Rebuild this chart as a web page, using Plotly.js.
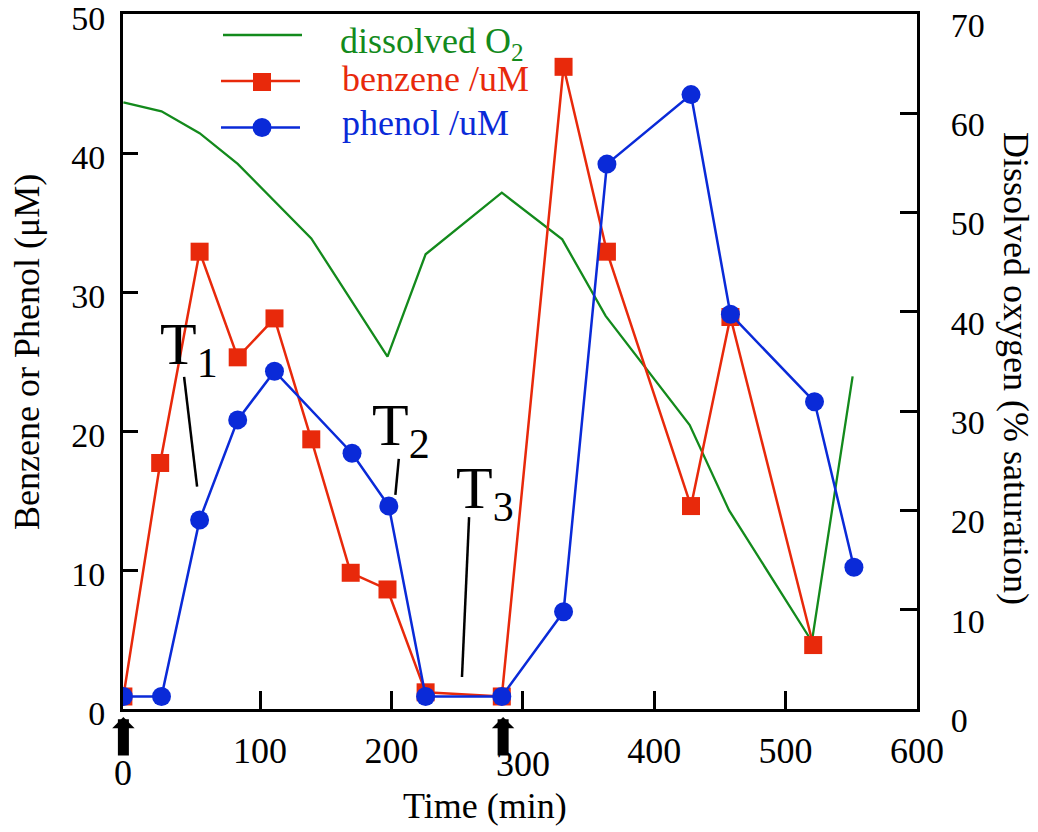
<!DOCTYPE html>
<html><head><meta charset="utf-8">
<script src="https://cdn.plot.ly/plotly-3.0.1.min.js"></script>
<style>html,body{margin:0;padding:0;background:#fff}</style>
</head><body><div id="chart" style="width:1038px;height:832px"></div>
<script>
// ---- data ----
const timeBenzene = [-4, 24, 54, 83, 111, 139, 169, 197, 226, 284, 331, 364, 428, 458, 521];
const benzene     = [0.9, 17.7, 32.9, 25.3, 28.1, 19.4, 9.8, 8.6, 1.2, 0.9, 46.2, 32.9, 14.6, 28.2, 4.6];
const timePhenol  = [-4, 25, 54, 83, 111, 170, 198, 226, 284, 331, 364, 428, 458, 522, 552];
const phenol      = [0.9, 0.9, 13.6, 20.8, 24.3, 18.4, 14.6, 0.9, 0.9, 7.0, 39.2, 44.2, 28.4, 22.1, 10.2];
const timeO2      = [-4, 25, 54, 83, 139, 197, 226, 284, 330, 363, 427, 457, 520, 551];
const dissolvedO2 = [61.1, 60.2, 58.0, 54.9, 47.4, 35.5, 45.8, 52.0, 47.3, 39.6, 28.6, 20.0, 6.8, 33.5];
const xTickVals   = [100, 200, 300, 400, 500, 600];
const xTickText   = ['100', '200', '', '400', '500', '600'];
const leftTicks   = [0, 10, 20, 30, 40, 50];
const rightTicks  = [0, 10, 20, 30, 40, 50, 60, 70];
const additionTimes = [-4, 285];   // black arrows
const seriesNames = ['dissolved O<sub>2</sub>', 'benzene /uM', 'phenol /uM'];

// ---- styling ----
const FONT = 'Liberation Serif, Times New Roman, serif';
const GREEN = '#138a1c', RED = '#e8290b', BLUE = '#0a2ad8';
const W = 1038, H = 832, ML = 123, MR = 121, MT = 14, MB = 123;
const pw = W - ML - MR, ph = H - MT - MB;
const px = x => (x - ML) / pw;
const py = y => (H - MB - y) / ph;

const traces = [
  {x: timeO2, y: dissolvedO2, yaxis: 'y', mode: 'lines', name: seriesNames[0],
   line: {color: GREEN, width: 2.3}},
  {x: timeBenzene, y: benzene, yaxis: 'y2', mode: 'lines+markers', name: seriesNames[1],
   line: {color: RED, width: 2.5}, marker: {symbol: 'square', size: 18, color: RED}},
  {x: timePhenol, y: phenol, yaxis: 'y2', mode: 'lines+markers', name: seriesNames[2],
   line: {color: BLUE, width: 2.5}, marker: {symbol: 'circle', size: 19, color: BLUE}}
];

const axisCommon = {showgrid: false, zeroline: false, showline: true, linecolor: '#000',
  linewidth: 3, ticks: 'inside', tickcolor: '#000', tickwidth: 3, ticklabeloverflow: 'allow'};

const annotations = [
  // axis titles
  {xref: 'paper', yref: 'paper', x: px(485), y: py(806), text: 'Time (min)', showarrow: false,
   font: {family: FONT, size: 36, color: '#000'}, xanchor: 'center', yanchor: 'middle'},
  {xref: 'paper', yref: 'paper', x: px(27), y: py(352), text: 'Benzene or Phenol (μM)', showarrow: false,
   textangle: -90, font: {family: FONT, size: 36, color: '#000'}, xanchor: 'center', yanchor: 'middle'},
  {xref: 'paper', yref: 'paper', x: px(1016), y: py(368), text: 'Dissolved oxygen (% saturation)', showarrow: false,
   textangle: 90, font: {family: FONT, size: 36, color: '#000'}, xanchor: 'center', yanchor: 'middle'},
  // displaced x tick labels
  {xref: 'x', yref: 'paper', x: 0, y: py(773), text: '0', showarrow: false,
   font: {family: FONT, size: 36, color: '#000'}, xanchor: 'center', yanchor: 'middle', xshift: -6},
  {xref: 'x', yref: 'paper', x: 300, y: py(764), text: '300', showarrow: false,
   font: {family: FONT, size: 36, color: '#000'}, xanchor: 'center', yanchor: 'middle'},
  // T labels
  {xref: 'x', yref: 'y2', x: 46, y: 25.9, text: 'T<sub>1</sub>', showarrow: false,
   font: {family: FONT, size: 60, color: '#000'}, xanchor: 'center', yanchor: 'middle'},
  {xref: 'x', yref: 'y2', x: 207, y: 20.1, text: 'T<sub>2</sub>', showarrow: false,
   font: {family: FONT, size: 60, color: '#000'}, xanchor: 'center', yanchor: 'middle'},
  {xref: 'x', yref: 'y2', x: 271, y: 15.6, text: 'T<sub>3</sub>', showarrow: false,
   font: {family: FONT, size: 60, color: '#000'}, xanchor: 'center', yanchor: 'middle'},
  // legend texts
  {xref: 'paper', yref: 'paper', x: px(338), y: py(44), text: seriesNames[0], showarrow: false,
   font: {family: FONT, size: 36, color: GREEN}, xanchor: 'left', yanchor: 'middle'},
  {xref: 'paper', yref: 'paper', x: px(340), y: py(79), text: seriesNames[1], showarrow: false,
   font: {family: FONT, size: 36, color: RED}, xanchor: 'left', yanchor: 'middle'},
  {xref: 'paper', yref: 'paper', x: px(340), y: py(123), text: seriesNames[2], showarrow: false,
   font: {family: FONT, size: 36, color: BLUE}, xanchor: 'left', yanchor: 'middle'}
];
additionTimes.forEach(t => annotations.push({
  xref: 'x', yref: 'paper', x: t, y: py(717), ax: 0, ay: 40, text: '', showarrow: true,
  arrowhead: 1, arrowsize: 0.34, arrowwidth: 11, arrowcolor: '#000', standoff: 0
}));

const shapes = [
  // pointer lines for T labels
  {type: 'line', xref: 'x', yref: 'y2', x0: 42.2, y0: 23.9, x1: 52.1, y1: 16.0, line: {color: '#000', width: 2.5}},
  {type: 'line', xref: 'x', yref: 'y2', x0: 205.6, y0: 18.0, x1: 203.0, y1: 15.4, line: {color: '#000', width: 2.5}},
  {type: 'line', xref: 'x', yref: 'y2', x0: 259.1, y0: 13.8, x1: 253.7, y1: 2.3, line: {color: '#000', width: 2.5}},
  // legend samples
  {type: 'line', xref: 'paper', yref: 'paper', x0: px(223), x1: px(302), y0: py(35), y1: py(35), line: {color: GREEN, width: 2.5}},
  {type: 'line', xref: 'paper', yref: 'paper', x0: px(221), x1: px(300), y0: py(81), y1: py(81), line: {color: RED, width: 2.5}},
  {type: 'line', xref: 'paper', yref: 'paper', x0: px(221), x1: px(300), y0: py(127.5), y1: py(127.5), line: {color: BLUE, width: 2.5}},
  {type: 'rect', xref: 'paper', yref: 'paper', xsizemode: 'pixel', ysizemode: 'pixel',
   xanchor: px(262), yanchor: py(82), x0: -9, x1: 9, y0: -9, y1: 9, fillcolor: RED, line: {width: 0}},
  {type: 'circle', xref: 'paper', yref: 'paper', xsizemode: 'pixel', ysizemode: 'pixel',
   xanchor: px(262), yanchor: py(127.5), x0: -9.5, x1: 9.5, y0: -9.5, y1: 9.5, fillcolor: BLUE, line: {width: 0}}
];

const layout = {
  width: W, height: H, margin: {l: ML, r: MR, t: MT, b: MB, pad: 0},
  paper_bgcolor: '#fff', plot_bgcolor: '#fff', showlegend: false,
  font: {family: FONT, color: '#000'},
  xaxis: Object.assign({}, axisCommon, {range: [-4.3, 600], mirror: true, ticklen: 18,
    tickvals: xTickVals, ticktext: xTickText, tickfont: {family: FONT, size: 36}, ticklabelstandoff: 8}),
  yaxis: Object.assign({}, axisCommon, {range: [0, 70], side: 'right', ticklen: 17,
    tickvals: rightTicks, tickfont: {family: FONT, size: 34}, ticklabelstandoff: 24, ticklabelshift: 11}),
  yaxis2: Object.assign({}, axisCommon, {range: [0, 50], side: 'left', overlaying: 'y', ticklen: 15,
    tickvals: leftTicks, tickfont: {family: FONT, size: 34}, ticklabelstandoff: 8, ticklabelshift: 4}),
  annotations: annotations, shapes: shapes
};

Plotly.newPlot('chart', traces, layout, {displayModeBar: false, staticPlot: true});
</script></body></html>
